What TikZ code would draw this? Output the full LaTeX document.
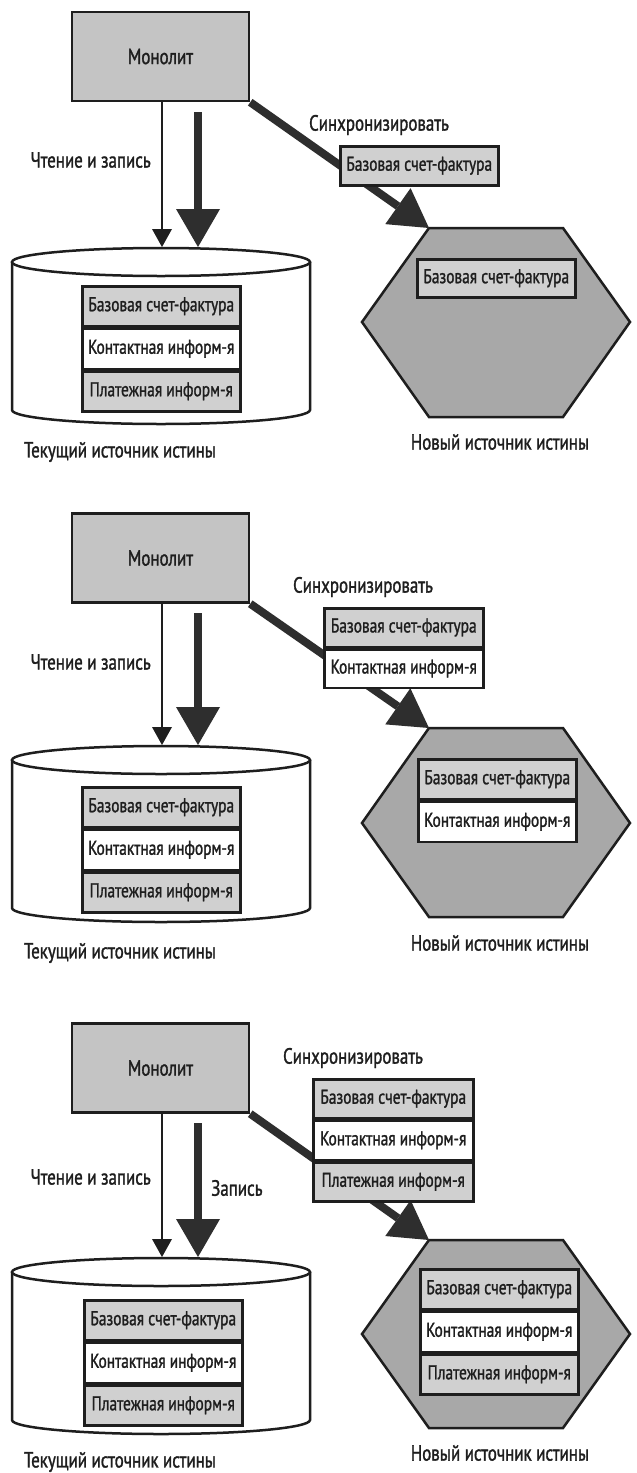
\documentclass[tikz,border=0pt]{standalone}
\usepackage{fontspec}
\setmainfont{PT Sans}[FakeStretch=0.77,FakeBold=1.3]
\usetikzlibrary{arrows.meta,calc}

\definecolor{ink}{HTML}{1E1E1E}
\definecolor{boxgray}{HTML}{C4C4C4}
\definecolor{cellgray}{HTML}{D0D0D0}
\definecolor{hexgray}{HTML}{A8A8A8}
\definecolor{arrowgray}{HTML}{2E2E2E}

\tikzset{
  txt/.style={font=\fontsize{22pt}{25pt}\selectfont, text=ink, inner sep=0pt},
  monobox/.style={txt, draw=ink, line width=2.5pt, fill=boxgray,
    minimum width=177pt, minimum height=89pt},
  cell/.style={txt, font=\fontsize{20pt}{23pt}\selectfont, draw=ink,
    line width=2.5pt, minimum width=158pt, minimum height=40pt, anchor=north west},
  gcell/.style={cell, fill=cellgray},
  wcell/.style={cell, fill=white},
  slim/.style={draw=ink, line width=2.2pt,
    -{Triangle[width=20pt,length=18pt,line width=0pt]}},
  fat/.style={draw=arrowgray, line width=8pt,
    -{Triangle[width=44pt,length=38pt,line width=0pt]}},
  drum/.style={draw=ink, line width=2.5pt, fill=white},
  hexa/.style={draw=ink, line width=2.5pt, fill=hexgray, line join=miter},
}

\begin{document}
\begin{tikzpicture}[x=1pt,y=-1pt]
\useasboundingbox (0,0) rectangle (637,1473);
\fill[white] (0,0) rectangle (637,1473);

% ---------- stage 1 ----------
\node[monobox] (mono1) at (160.5,56.5) {Монолит};
\coordinate (rd1) at (162,247);
\coordinate (ws1) at (198,112);
\coordinate (we1) at (198,247);
\draw[hexa] (429,228) coordinate (hx1) -- (563,228) -- (630,322) -- (563,417)
  -- (429,417) -- (362,322) -- cycle;
\draw[drum] (12,262) -- (12,410) arc[start angle=180,end angle=360,x radius=149pt,y radius=14pt]
  -- (310,262);
\draw[drum] (161,262) ellipse[x radius=149pt,y radius=14pt];
\draw[slim] (mono1.south -| rd1) -- (rd1);
\draw[fat] (ws1) -- (we1);
\node[txt, anchor=east] (rw1) at (151,160) {Чтение и запись};
\node[gcell] (d1a) at (81,285) {Базовая счет-фактура};
\node[wcell, anchor=north] (d1b) at (d1a.south) {Контактная информ-я};
\node[gcell, anchor=north] (d1c) at (d1b.south) {Платежная информ-я};
\node[txt] (cur1) at (120,452) {Текущий источник истины};
\draw[fat] (mono1.south east) -- (hx1);
\node[txt] (sync1) at (379,125) {Синхронизировать};
\node[gcell, minimum height=39pt] (s1a) at (339,145) {Базовая счет-фактура};
\node[gcell, minimum height=38pt] (h1a) at (416,258) {Базовая счет-фактура};
\node[txt] (new1) at (500,442) {Новый источник истины};

% ---------- stage 2 ----------
\node[monobox] (mono2) at (160.5,558) {Монолит};
\coordinate (rd2) at (162,745);
\coordinate (ws2) at (198,613);
\coordinate (we2) at (198,745);
\draw[hexa] (429,728) coordinate (hx2) -- (563,728) -- (630,823) -- (563,917)
  -- (429,917) -- (362,823) -- cycle;
\draw[drum] (12,760) -- (12,908) arc[start angle=180,end angle=360,x radius=149pt,y radius=14pt]
  -- (310,760);
\draw[drum] (161,760) ellipse[x radius=149pt,y radius=14pt];
\draw[slim] (mono2.south -| rd2) -- (rd2);
\draw[fat] (ws2) -- (we2);
\node[txt, anchor=east] (rw2) at (151,662) {Чтение и запись};
\node[gcell] (d2a) at (81,786) {Базовая счет-фактура};
\node[wcell, anchor=north] (d2b) at (d2a.south) {Контактная информ-я};
\node[gcell, anchor=north] (d2c) at (d2b.south) {Платежная информ-я};
\node[txt] (cur2) at (120,953) {Текущий источник истины};
\draw[fat] (mono2.south east) -- (hx2);
\node[txt] (sync2) at (363,587) {Синхронизировать};
\node[gcell, minimum width=159pt, minimum height=38.5pt] (s2a) at (323,607) {Базовая счет-фактура};
\node[wcell, minimum width=159pt, minimum height=38.5pt, anchor=north] (s2b) at (s2a.south) {Контактная информ-я};
\node[gcell] (h2a) at (417,758) {Базовая счет-фактура};
\node[wcell, anchor=north] (h2b) at (h2a.south) {Контактная информ-я};
\node[txt] (new2) at (500,943) {Новый источник истины};

% ---------- stage 3 ----------
\node[monobox] (mono3) at (160.5,1068) {Монолит};
\coordinate (rd3) at (162,1257);
\coordinate (ws3) at (198,1123);
\coordinate (we3) at (198,1257);
\draw[hexa] (429,1240) coordinate (hx3) -- (563,1240) -- (630,1334) -- (563,1428)
  -- (429,1428) -- (362,1334) -- cycle;
\draw[drum] (12,1272) -- (12,1420) arc[start angle=180,end angle=360,x radius=149pt,y radius=14pt]
  -- (310,1272);
\draw[drum] (161,1272) ellipse[x radius=149pt,y radius=14pt];
\draw[slim] (mono3.south -| rd3) -- (rd3);
\draw[fat] (ws3) -- (we3);
\node[txt, anchor=east] (rw3) at (151,1177) {Чтение и запись};
\node[txt, anchor=west] (wr3) at (211,1188) {Запись};
\node[gcell] (d3a) at (83,1299) {Базовая счет-фактура};
\node[wcell, anchor=north] (d3b) at (d3a.south) {Контактная информ-я};
\node[gcell, anchor=north] (d3c) at (d3b.south) {Платежная информ-я};
\node[txt] (cur3) at (120,1462) {Текущий источник истины};
\draw[fat] (mono3.south east) -- (hx3);
\node[txt] (sync3) at (353,1058) {Синхронизировать};
\node[gcell, minimum width=160pt, minimum height=39pt] (s3a) at (312,1078) {Базовая счет-фактура};
\node[wcell, minimum width=160pt, minimum height=39pt, anchor=north] (s3b) at (s3a.south) {Контактная информ-я};
\node[gcell, minimum width=160pt, minimum height=39pt, anchor=north] (s3c) at (s3b.south) {Платежная информ-я};
\node[gcell] (h3a) at (419,1268) {Базовая счет-фактура};
\node[wcell, anchor=north] (h3b) at (h3a.south) {Контактная информ-я};
\node[gcell, anchor=north] (h3c) at (h3b.south) {Платежная информ-я};
\node[txt] (new3) at (500,1453) {Новый источник истины};
\end{tikzpicture}
\end{document}
